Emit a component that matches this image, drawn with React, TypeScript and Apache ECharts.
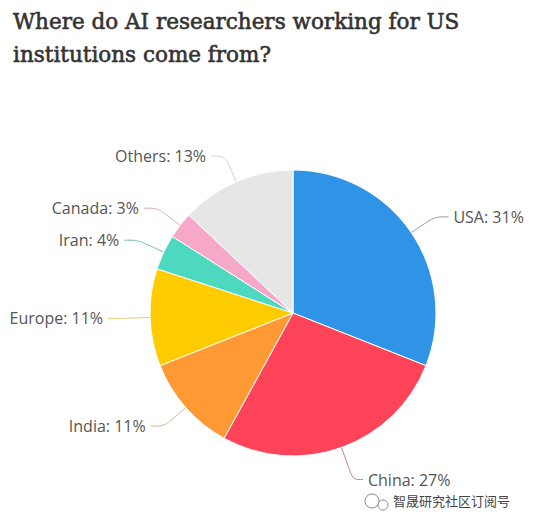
import React, { useEffect, useRef } from "react";
import * as echarts from "echarts";

const countries = ["USA", "China", "India", "Europe", "Iran", "Canada", "Others"];
const shares = [31, 27, 11, 11, 4, 3, 13];
const colors = ["#3094E6", "#FF4459", "#FF9933", "#FFCC00", "#4DD9C0", "#F7A8C8", "#E6E6E6"];
const lineColors = ["#8A9AA8", "#C47A88", "#D8B48A", "#E0CC70", "#6FBFB0", "#D8A8BC", "#D0D0D0"];
const titleText = "Where do AI researchers working for US\ninstitutions come from?";
const watermark = "智晟研究社区订阅号";

export default function App() {
  const ref = useRef<HTMLDivElement>(null);
  useEffect(() => {
    if (!ref.current) return;
    const chart = echarts.init(ref.current, undefined, { renderer: "svg" });
    chart.setOption({
      animation: false,
      backgroundColor: "#ffffff",
      title: {
        text: titleText,
        left: 8,
        top: 0,
        textStyle: {
          fontFamily: "DejaVu Serif",
          fontSize: 21.5,
          fontWeight: 500,
          color: "#333333",
          lineHeight: 33,
          textBorderColor: "#333333",
          textBorderWidth: 0.6,
        },
      },
      series: [
        {
          type: "pie",
          center: [293, 313],
          radius: 143,
          startAngle: 90,
          clockwise: true,
          data: countries.map((c, i) => ({
            name: c,
            value: shares[i],
            itemStyle: { color: colors[i] },
            labelLine:
              c === "China"
                ? { length: 34, length2: 10, lineStyle: { color: lineColors[i] } }
                : { lineStyle: { color: lineColors[i] } },
          })),
          itemStyle: { borderColor: "#ffffff", borderWidth: 1 },
          label: {
            formatter: "{b}: {c}%",
            fontFamily: "Open Sans",
            fontSize: 16,
            color: "#555555",
            overflow: "none",
          },
          labelLine: {
            length: 28,
            length2: 14,
            smooth: 0.3,
            lineStyle: { width: 1 },
          },
        },
      ],
      graphic: [
        {
          type: "text",
          left: 393,
          top: 494,
          style: {
            text: watermark,
            fontFamily: "Noto Sans CJK SC",
            fontSize: 13,
            fill: "#444444",
          },
        },
        {
          type: "circle",
          shape: { cx: 372, cy: 501, r: 7 },
          style: { fill: "none", stroke: "#888888", lineWidth: 1 },
        },
        {
          type: "circle",
          shape: { cx: 383, cy: 505, r: 5 },
          style: { fill: "#ffffff", stroke: "#888888", lineWidth: 1 },
        },
      ],
    });
    return () => chart.dispose();
  }, []);
  return (
    <div
      ref={ref}
      style={{ position: "fixed", left: 0, top: 0, width: 543, height: 518 }}
    />
  );
}
